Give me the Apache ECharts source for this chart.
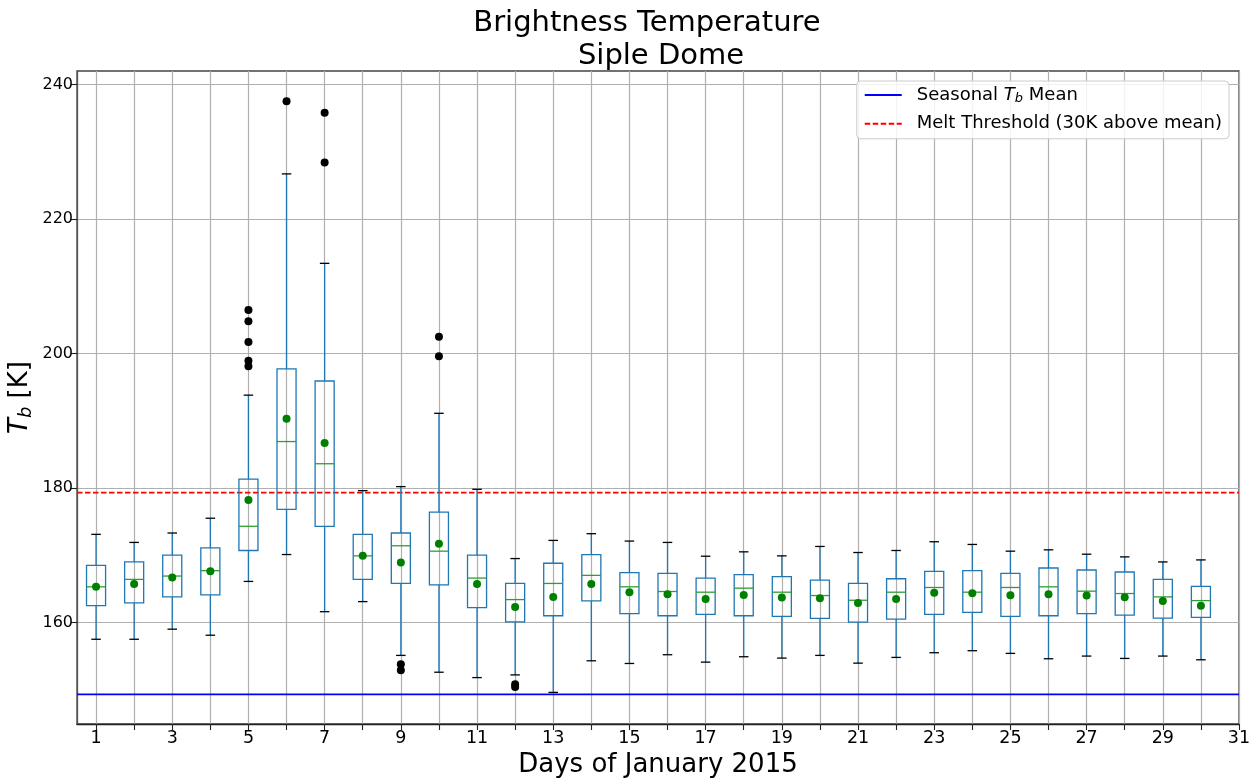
<!DOCTYPE html>
<html>
<head>
<meta charset="utf-8">
<title>Brightness Temperature - Siple Dome</title>
<script src="https://cdn.jsdelivr.net/npm/echarts@6/dist/echarts.min.js"></script>
<style>
  html, body { margin: 0; padding: 0; background: #ffffff; }
  #chart { width: 1260px; height: 781px; }
</style>
</head>
<body>
<div id="chart"></div>
<script>
// Daily brightness temperature distributions, January 2015 (K)
const days = [1, 2, 3, 4, 5, 6, 7, 8, 9, 10, 11, 12, 13, 14, 15,
              16, 17, 18, 19, 20, 21, 22, 23, 24, 25, 26, 27, 28, 29, 30];
const whiskerLow = [157.5, 157.5, 159.0, 158.1, 166.1, 170.1, 161.6, 163.1, 155.1, 152.6,
                    151.8, 152.2, 149.6, 154.3, 153.9, 155.2, 154.1, 154.9, 154.7, 155.1,
                    153.95, 154.8, 155.5, 155.8, 155.4, 154.6, 155.0, 154.65, 155.0, 154.45];
const q1 = [162.5, 162.9, 163.8, 164.1, 170.7, 176.8, 174.3, 166.4, 165.8, 165.6,
            162.2, 160.1, 161.0, 163.2, 161.3, 161.0, 161.2, 161.0, 160.9, 160.6,
            160.05, 160.5, 161.2, 161.5, 160.9, 161.0, 161.3, 161.1, 160.65, 160.75];
const medians = [165.3, 166.4, 166.9, 167.7, 174.3, 186.9, 183.6, 169.9, 171.4, 170.6,
                 166.6, 163.4, 165.8, 167.0, 165.3, 164.6, 164.5, 165.1, 164.5, 164.0,
                 163.3, 164.5, 165.2, 164.5, 165.2, 165.3, 164.65, 164.3, 163.8, 163.25];
const q3 = [168.5, 169.0, 170.0, 171.1, 181.3, 197.7, 195.9, 173.1, 173.3, 176.4,
            170.0, 165.8, 168.8, 170.1, 167.4, 167.3, 166.6, 167.1, 166.8, 166.3,
            165.8, 166.5, 167.6, 167.7, 167.3, 168.1, 167.8, 167.5, 166.4, 165.35];
const whiskerHigh = [173.1, 171.9, 173.3, 175.5, 193.8, 226.7, 213.4, 179.6, 180.2, 191.1,
                     179.8, 169.5, 172.2, 173.2, 172.1, 171.9, 169.85, 170.5, 169.9, 171.3,
                     170.4, 170.7, 172.0, 171.6, 170.6, 170.8, 170.15, 169.75, 169.0, 169.3];
const means = [165.3, 165.7, 166.7, 167.6, 178.2, 190.3, 186.7, 169.9, 168.9, 171.7,
               165.7, 162.3, 163.8, 165.7, 164.5, 164.2, 163.5, 164.1, 163.7, 163.6,
               162.9, 163.5, 164.4, 164.35, 164.05, 164.2, 164.0, 163.75, 163.2, 162.5];
const outlierDays =   [5, 5, 5, 5, 5, 6, 7, 7, 9, 9, 10, 10, 12, 12];
const outlierValues = [206.45, 204.8, 201.7, 198.9, 198.1, 237.5, 235.8, 228.4,
                       153.8, 152.9, 202.5, 199.6, 150.8, 150.4];

const seasonalMean = 149.3;
const meltThreshold = 179.3;

const xTickDays = [1, 2, 3, 4, 5, 6, 7, 8, 9, 10, 11, 12, 13, 14, 15, 16,
                   17, 18, 19, 20, 21, 22, 23, 24, 25, 26, 27, 28, 29, 30, 31];
const xLabelDays = [1, 3, 5, 7, 9, 11, 13, 15, 17, 19, 21, 23, 25, 27, 29, 31];
const yTicks = [160, 180, 200, 220, 240];

const MEAN_NAME = 'Seasonal Tb Mean';
const MELT_NAME = 'Melt Threshold (30K above mean)';
const FONT = 'DejaVu Sans';

const boxData = days.map((d, i) => [d, whiskerLow[i], q1[i], medians[i], q3[i], whiskerHigh[i]]);
const meanData = days.map((d, i) => [d, means[i]]);
const outlierData = outlierDays.map((d, i) => [d, outlierValues[i]]);

const BOX_WIDTH = 0.5;   // in days
const CAP_WIDTH = 0.25;  // in days
const BOX_BLUE = '#1f77b4';
const MEDIAN_GREEN = '#2ca02c';

function renderBox(params, api) {
  const x = api.value(0);
  const pLow = api.coord([x, api.value(1)]);
  const pQ1 = api.coord([x, api.value(2)]);
  const pMed = api.coord([x, api.value(3)]);
  const pQ3 = api.coord([x, api.value(4)]);
  const pHigh = api.coord([x, api.value(5)]);
  const halfBox = api.size([BOX_WIDTH, 0])[0] / 2;
  const halfCap = api.size([CAP_WIDTH, 0])[0] / 2;
  const cx = pMed[0];
  const lw = 1.3;
  const line = (x1, y1, x2, y2, color) => ({
    type: 'line',
    shape: { x1, y1, x2, y2 },
    style: { stroke: color, lineWidth: lw, fill: null }
  });
  return {
    type: 'group',
    children: [
      line(cx, pQ1[1], cx, pLow[1], BOX_BLUE),
      line(cx, pQ3[1], cx, pHigh[1], BOX_BLUE),
      line(cx - halfCap, pLow[1], cx + halfCap, pLow[1], '#000000'),
      line(cx - halfCap, pHigh[1], cx + halfCap, pHigh[1], '#000000'),
      {
        type: 'rect',
        shape: { x: cx - halfBox, y: pQ3[1], width: halfBox * 2, height: pQ1[1] - pQ3[1] },
        style: { stroke: BOX_BLUE, lineWidth: lw, fill: null }
      },
      line(cx - halfBox, pMed[1], cx + halfBox, pMed[1], MEDIAN_GREEN)
    ]
  };
}

const chart = echarts.init(document.getElementById('chart'), null, { renderer: 'canvas' });

chart.setOption({
  animation: false,
  backgroundColor: '#ffffff',
  textStyle: { fontFamily: FONT },
  title: [
    {
      text: 'Brightness Temperature',
      left: 647, top: 9, padding: 0, textAlign: 'center',
      textStyle: { fontFamily: FONT, fontSize: 29, fontWeight: 'normal', color: '#000' }
    },
    {
      text: 'Siple Dome',
      left: 661, top: 42, padding: 0, textAlign: 'center',
      textStyle: { fontFamily: FONT, fontSize: 29, fontWeight: 'normal', color: '#000' }
    }
  ],
  grid: {
    left: 77, right: 21, top: 71, bottom: 57,
    show: true, borderColor: '#444', borderWidth: 1.3,
    containLabel: false,
    outerBoundsMode: 'none'
  },
  legend: {
    orient: 'vertical',
    right: 31, top: 81,
    padding: [4, 7, 6, 7],
    itemGap: 9.8,
    itemWidth: 37, itemHeight: 14,
    data: [MEAN_NAME, MELT_NAME],
    backgroundColor: 'rgba(255,255,255,0.85)',
    borderColor: '#cccccc', borderWidth: 1, borderRadius: 4,
    itemStyle: { opacity: 0 },
    formatter: function (name) {
      if (name === MEAN_NAME) return '{n|Seasonal }{i|T}{s|b}{n| Mean}';
      return '{n|' + name + '}';
    },
    textStyle: {
      fontFamily: FONT, fontSize: 18, color: '#000',
      padding: [0, 0, 0, 10],
      rich: {
        n: { fontFamily: FONT, fontSize: 18, lineHeight: 20, color: '#000' },
        i: { fontFamily: FONT, fontSize: 18, lineHeight: 20, fontStyle: 'italic', color: '#000' },
        s: { fontFamily: FONT, fontSize: 13, lineHeight: 13, fontStyle: 'italic', color: '#000', padding: [7, 0, 0, 0] }
      }
    }
  },
  xAxis: {
    type: 'value',
    min: 0.5, max: 31,
    name: 'Days of January 2015',
    nameLocation: 'middle',
    nameGap: 26,
    nameTextStyle: { fontFamily: FONT, fontSize: 26, color: '#000' },
    axisLine: { show: true, onZero: false, lineStyle: { color: '#222', width: 1.3 } },
    axisTick: { show: true, customValues: xTickDays, length: 6, lineStyle: { color: '#222', width: 1.1 } },
    axisLabel: { customValues: xLabelDays, fontFamily: FONT, fontSize: 17.5, color: '#000', margin: 5 },
    splitLine: { show: true, lineStyle: { color: '#b0b0b0', width: 1.2 } }
  },
  yAxis: {
    type: 'value',
    min: 144.9, max: 242,
    name: '{i|T}{s|b}{n| [K]}',
    nameLocation: 'middle',
    nameGap: 42,
    nameMoveOverlap: false,
    nameTextStyle: {
      fontFamily: FONT, fontSize: 26, color: '#000',
      rich: {
        n: { fontFamily: FONT, fontSize: 26, color: '#000' },
        i: { fontFamily: FONT, fontSize: 26, fontStyle: 'italic', color: '#000' },
        s: { fontFamily: FONT, fontSize: 18, fontStyle: 'italic', color: '#000', padding: [11, 0, 0, 0] }
      }
    },
    axisLine: { show: true, lineStyle: { color: '#555', width: 1.3 } },
    axisTick: { show: true, customValues: yTicks, length: 6, lineStyle: { color: '#222', width: 1.1 } },
    axisLabel: { customValues: yTicks, fontFamily: FONT, fontSize: 16, color: '#000', margin: 4 },
    splitLine: { show: true, lineStyle: { color: '#b0b0b0', width: 1.2 } }
  },
  series: [
    {
      type: 'custom',
      name: 'box',
      renderItem: renderBox,
      encode: { x: 0, y: [1, 2, 3, 4, 5] },
      data: boxData,
      z: 3
    },
    {
      type: 'scatter',
      name: 'outliers',
      data: outlierData,
      symbol: 'circle', symbolSize: 8,
      itemStyle: { color: '#000000', opacity: 1 },
      z: 4
    },
    {
      type: 'scatter',
      name: 'means',
      data: meanData,
      symbol: 'circle', symbolSize: 8,
      itemStyle: { color: '#008000', opacity: 1 },
      z: 5
    },
    {
      type: 'line',
      name: MEAN_NAME,
      data: [[0.5, seasonalMean], [31, seasonalMean]],
      symbol: 'none', showSymbol: false,
      lineStyle: { color: '#0000ff', width: 1.6 },
      itemStyle: { color: '#0000ff' },
      z: 2
    },
    {
      type: 'line',
      name: MELT_NAME,
      data: [[0.5, meltThreshold], [31, meltThreshold]],
      symbol: 'none', showSymbol: false,
      lineStyle: { color: '#ff0000', width: 1.6, type: [5.5, 2.5] },
      itemStyle: { color: '#ff0000' },
      z: 2
    }
  ]
});
</script>
</body>
</html>
